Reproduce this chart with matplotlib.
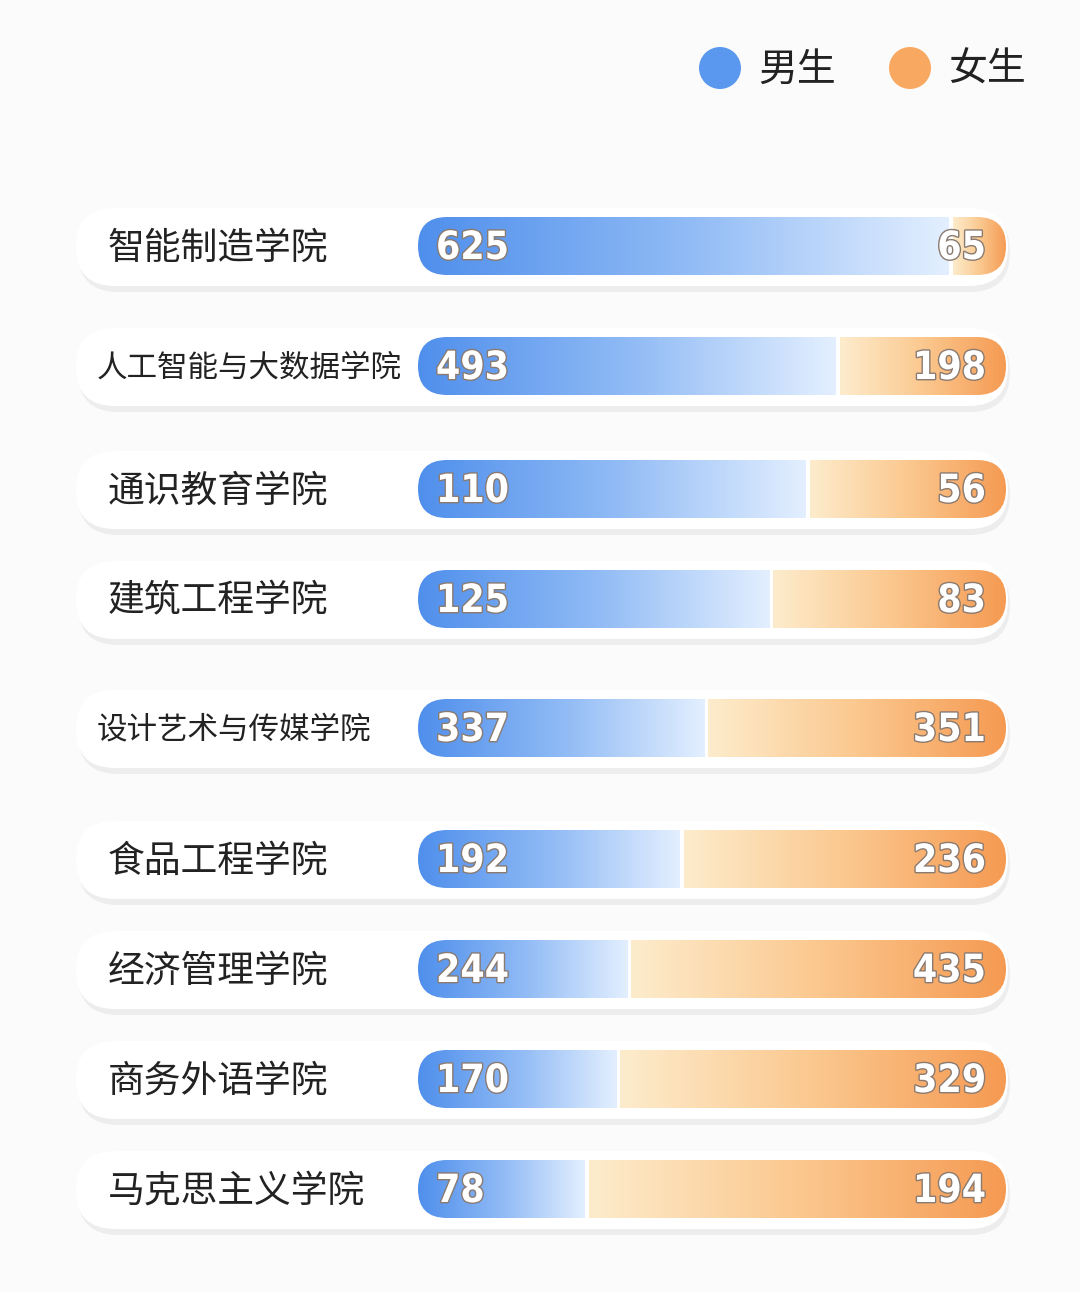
import numpy as np
import matplotlib
matplotlib.use("Agg")
import matplotlib.pyplot as plt
from matplotlib.patches import FancyBboxPatch, Circle
import matplotlib.patheffects as pe
from matplotlib.colors import LinearSegmentedColormap

plt.rcParams['font.family'] = ['Noto Sans CJK SC', 'DejaVu Sans']

colleges = ["智能制造学院", "人工智能与大数据学院", "通识教育学院", "建筑工程学院",
            "设计艺术与传媒学院", "食品工程学院", "经济管理学院", "商务外语学院", "马克思主义学院"]
male = [625, 493, 110, 125, 337, 192, 244, 170, 78]
female = [65, 198, 56, 83, 351, 236, 435, 329, 194]
legend_labels = ["男生", "女生"]

row_y = [246, 366, 489, 599, 728, 859, 969, 1079, 1189]
name_size = [26.5, 22, 26.5, 26.5, 22, 26.5, 26.5, 26.5, 26.5]

fig = plt.figure(figsize=(10.8, 12.92), dpi=100)
fig.patch.set_facecolor('#fbfbfb')
ax = fig.add_axes([0, 0, 1, 1])
ax.set_xlim(0, 1080); ax.set_ylim(1292, 0); ax.axis('off')

blue = LinearSegmentedColormap.from_list('b', ['#4f8fec', '#8fbaf5', '#e3efff'])
orange = LinearSegmentedColormap.from_list('o', ['#fdeccc', '#fbc88f', '#f59a52'])
grad = np.linspace(0, 1, 256).reshape(1, -1)

bx0, bx1, bh = 418, 1006, 58
for i, (name, m, f) in enumerate(zip(colleges, male, female)):
    y = row_y[i]
    ax.add_patch(FancyBboxPatch((78, y - 34), 932, 80, boxstyle="round,pad=0,rounding_size=40",
                                fc='#ededed', ec='none', zorder=1))
    ax.add_patch(FancyBboxPatch((76, y - 38), 932, 78, boxstyle="round,pad=0,rounding_size=39",
                                fc='white', ec='none', zorder=2))
    ax.text(108 if name_size[i] > 24 else 97, y + 2, name, fontsize=name_size[i], va='center',
            ha='left', color='#222222', zorder=5)
    frac = m / (m + f)
    split = bx0 + frac * (bx1 - bx0)
    pill = FancyBboxPatch((bx0, y - bh / 2), bx1 - bx0, bh, boxstyle="round,pad=0,rounding_size=29",
                          fc='none', ec='none', transform=ax.transData)
    ax.add_patch(pill)
    im1 = ax.imshow(grad, cmap=blue, extent=(bx0, split - 2, y + bh / 2, y - bh / 2),
                    aspect='auto', zorder=3)
    im1.set_clip_path(pill)
    im2 = ax.imshow(grad, cmap=orange, extent=(split + 2, bx1, y + bh / 2, y - bh / 2),
                    aspect='auto', zorder=3)
    im2.set_clip_path(pill)
    eff = [pe.withStroke(linewidth=2, foreground='#8a7a70')]
    ax.text(bx0 + 18, y + 2, str(m), fontsize=28, fontweight='bold', fontstretch='condensed',
            color='white', va='center', ha='left', zorder=6, path_effects=eff, family='DejaVu Sans')
    ax.text(bx1 - 20, y + 2, str(f), fontsize=28, fontweight='bold', fontstretch='condensed',
            color='white', va='center', ha='right', zorder=6, path_effects=eff, family='DejaVu Sans')

ax.set_ylim(1292, 0)
for cx, col, lab in [(720, '#5a97ef', legend_labels[0]), (910, '#f8a860', legend_labels[1])]:
    ax.add_patch(Circle((cx, 68), 21, fc=col, ec='none', zorder=5))
    ax.text(cx + 38, 70, lab, fontsize=28, va='center', ha='left', color='#222222')

fig.savefig('out.png', dpi=100, facecolor=fig.get_facecolor())
